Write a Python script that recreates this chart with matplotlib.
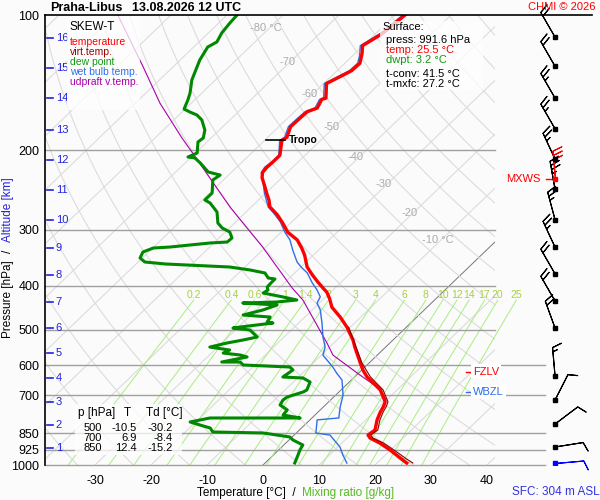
import numpy as np
import matplotlib
matplotlib.use('Agg')
import matplotlib.pyplot as plt
from matplotlib.patches import Rectangle
from matplotlib.lines import Line2D

plt.rcParams['font.family'] = ['Liberation Sans', 'DejaVu Sans']

# --- sounding data (pressure hPa, temperature degC) ---
t_p = [100, 110, 117, 121.5, 128, 133, 136, 142, 153, 154, 161, 164, 169, 177, 187, 190, 205, 212, 218, 224,
       230, 241, 249, 258, 267, 278, 290, 304, 316, 330, 342, 363, 378, 392, 404, 413, 426, 446, 469, 494,
       528, 547, 593, 615, 637, 654, 681, 724, 743, 762, 794, 836, 858, 871, 894, 926, 965, 990]
t_T = [-58.2, -58.8, -60.1, -58.8, -57.3, -57.4, -58.1, -59.5, -56.9, -57.4, -56.6, -57.7, -57.8, -57.9, -56.6, -56.9, -54.5, -54.5, -54.6, -54.4,
       -53.5, -51.3, -49.8, -48.1, -46.7, -43.9, -41.4, -38.8, -35.7, -33.3, -31.5, -28.9, -26.5, -24.2, -22.2, -20.7, -19.1, -17.0, -13.7, -10.6,
       -7.1, -5.5, -1.6, 0.2, 2.2, 4.1, 7.0, 10.1, 10.7, 11.1, 12.0, 13.5, 13.2, 14.1, 16.8, 19.9, 23.2, 25.3]

td_p = [100, 104.2, 109.6, 114.8, 117.8, 125.9, 130.5, 139.5, 149.1, 154.5, 161.8, 164.3, 166.8, 171.1, 180.1, 187.6, 191.5, 202.6, 206.8, 207.8,
        213.2, 223.3, 226.8, 232.6, 248.6, 257.7, 261.7, 274, 289.9, 297.4, 303.6, 313, 319.5, 321.1, 327.8, 329.5, 336.3, 346.7, 353.9, 357.5,
        363.1, 368.7, 374.4, 384.1, 386.1, 392.2, 402.3, 408.5, 414.8, 423.3, 429.9, 434.3, 436.5, 441, 452.4, 464.2, 469, 481.1, 483.6, 493.6,
        496.1, 501.2, 519.5, 527.6, 535.7, 546.9, 555.3, 563.9, 569.6, 575.4, 590.4, 590.4, 599.5, 605.7, 615, 637.4, 640.8, 654, 681.3, 688.3,
        706.1, 717, 735.6, 754.6, 774.3, 786.2, 786.2, 802.4, 814.9, 827.5, 844.6, 848.9, 866.5, 879.9, 902.7, 926.1, 950.2, 989.8]
td_T = [-88.2, -88.0, -87.6, -86.8, -87.5, -86.5, -85.7, -84.2, -82.1, -81.2, -80.2, -78.6, -76.8, -75.0, -72.6, -71.4, -71.6, -69.7, -70.6, -69.2,
        -67.3, -64.2, -61.5, -61.9, -59.6, -59.6, -58.1, -55.2, -53.0, -51.3, -49.2, -47.7, -47.8, -50.7, -57.1, -59.9, -61.0, -60.4, -58.8, -54.8,
        -42.7, -38.5, -35.3, -33.8, -32.4, -32.4, -32.3, -31.6, -31.9, -27.6, -24.6, -27.8, -33.7, -27.2, -28.8, -31.4, -26.2, -25.8, -24.6, -29.7,
        -30.8, -27.4, -24.8, -26.8, -29.1, -31.4, -27.3, -27.9, -24.5, -22.9, -26.5, -23.2, -22.1, -13.4, -12.3, -12.8, -9.0, -7.0, -6.1, -6.4,
        -8.3, -8.5, -8.1, -5.9, -5.7, -2.1, -18.2, -21.0, -18.7, -16.3, -15.1, -5.9, -0.4, 0.7, 3.4, 3.8, 4.4, 5.3]

tw_p = [100, 110, 117, 123, 128, 133, 136, 142, 153, 154, 161, 164, 169, 177, 187, 190, 205, 212, 218, 224,
        233, 249, 267, 275, 288, 304, 316, 333, 354, 365, 374, 394, 408, 423, 437, 452, 484, 519, 547, 570,
        606, 625, 647, 699, 743, 786, 794, 849, 858, 912, 950, 990]
tw_T = [-58.6, -59.2, -60.5, -58.8, -57.7, -57.8, -58.5, -59.9, -57.3, -57.8, -57.0, -58.1, -58.2, -58.3, -57.0, -57.3, -54.7, -54.7, -55.0, -54.6,
        -52.9, -50.2, -47.0, -45.0, -42.1, -39.3, -37.0, -34.6, -31.6, -29.6, -27.8, -25.0, -22.9, -21.0, -20.4, -18.6, -15.8, -13.1, -10.8, -9.7,
        -5.7, -3.9, -1.7, 1.3, 3.0, 4.8, 1.3, 3.5, 6.4, 10.4, 12.4, 14.6]

tv_p = [494, 527, 593, 637, 681, 724, 743, 762, 794, 836, 858, 871, 894, 926, 965, 990]
tv_T = [-10.3, -7.1, -1.3, 2.8, 7.5, 10.6, 11.2, 11.6, 12.5, 14.0, 13.7, 14.6, 17.5, 20.6, 24.1, 26.4]

parcel_p = [100, 130, 157, 187, 203, 268, 328, 404, 430, 536, 570, 631, 671, 688, 717]
parcel_T = [-109.5, -95.5, -85.6, -75.4, -70.4, -53.6, -40.5, -27.7, -23.5, -11.2, -7.9, 0.6, 5.9, 7.7, 9.9]

wind_p = [112, 130, 153, 179, 209, 244, 285, 328, 376, 432, 496, 634, 717, 811, 912]
wind_dir = [330, 330, 330, 330, 335, 350, 345, 335, 330, 330, 340, 355, 27, 53, 81]
wind_spd = [20, 20, 25, 25, 25, 35, 25, 25, 20, 20, 20, 15, 10, 10, 10]
mxws_p, mxws_dir, mxws_spd = 231, 355, 30
sfc_p, sfc_dir, sfc_spd = 990, 85, 10

alt_km = list(range(1, 17))
alt_p = [917, 815, 724, 641, 564, 496, 434, 378, 330, 285, 245, 210, 180, 153, 131, 112.5]

p_levels = [100, 200, 300, 400, 500, 600, 700, 850, 925, 1000]
t_ticks = [-30, -20, -10, 0, 10, 20, 30, 40]
iso_lab_T = [-80, -70, -60, -50, -40, -30, -20, -10]
iso_lab_p = [107, 127, 150, 177, 207, 238, 275, 316]
mix_w = [0.2, 0.4, 0.6, 1, 1.4, 2, 3, 4, 6, 8, 10, 12, 14, 17, 20, 25]

table_rows = [('500', '-10.5', '-30.2'), ('700', '6.9', '-8.4'), ('850', '12.4', '-15.2')]
surface_lines = [('press: 991.6 hPa', 'black'), ('temp: 25.5 \u00b0C', 'red'), ('dwpt: 3.2 \u00b0C', '#119911'),
                 ('t-conv: 41.5 \u00b0C', 'black'), ('t-mxfc: 27.2 \u00b0C', 'black')]
tropo_p = 190
fzlv_p, wbzl_p = 620, 688

K = 83.57  # skew in degC per decade of pressure


def skx(T, p):
    return np.asarray(T, float) + K * np.log10(1000.0 / np.asarray(p, float))


def fpx(x, y):
    return x / 600, 1 - y / 500


fig = plt.figure(figsize=(6, 5), dpi=100, facecolor='#fbfbfb')
ax = fig.add_axes([45 / 600, 0.07, 450 / 600, 0.9])
ax.set_facecolor('#fbfbfb')
ax.set_yscale('log')
ax.set_ylim(1000, 100)
ax.set_xlim(-38.93, 41.43)

pp = np.logspace(2, 3, 120)
# isotherms
for T in range(-130, 50, 10):
    c, lw = ('#777777', 0.7) if T == 0 else ('#dcdcdc', 0.8)
    ax.plot(skx(T, pp), pp, color=c, lw=lw, zorder=1)
# dry adiabats
for th in range(220, 470, 10):
    ax.plot(skx(th * (pp / 1000) ** 0.2857 - 273.15, pp), pp, color='#dcdcdc', lw=0.8, zorder=1)
# mixing ratio lines
pm = np.linspace(1000, 430, 40)
lab_p = 419
for w in mix_w:
    e = w * pm / (622 + w)
    l = np.log(e / 6.112)
    ax.plot(skx(243.5 * l / (17.67 - l), pm), pm, color='#a6ee80', lw=0.7, zorder=1, clip_on=False)
    e = w * lab_p / (622 + w)
    l = np.log(e / 6.112)
    ax.text(float(skx(243.5 * l / (17.67 - l), lab_p)) - 0.6, lab_p, f'{w:g}', color='#a8d040',
            fontsize=7.5, ha='center', va='center', zorder=2, clip_on=False)

# pressure lines
yt = ax.get_yaxis_transform()
for p in p_levels[1:]:
    xe = 1.111 if p >= 600 else 1.0
    ax.plot([0, xe], [p, p], color='#a0a0a0', lw=1.0, transform=yt, clip_on=False, zorder=2)

for T, p in zip(iso_lab_T, iso_lab_p):
    s = f'{T} \u00b0C' if T in (-80, -10) else f'{T}'
    ax.text(float(skx(T, p)) - 0.6, p, s, color='#aaaaaa', fontsize=8, ha='center', va='center', zorder=2)

# curves
ax.plot(skx(parcel_T, parcel_p), parcel_p, color='#aa00aa', lw=0.8, zorder=3)
ax.plot(skx(tw_T, tw_p), tw_p, color='#2f6fe8', lw=1.0, zorder=3)
ax.plot(skx(td_T, td_p), td_p, color='#008800', lw=2.2, zorder=4)
ax.plot(skx(t_T, t_p), t_p, color='#ff0000', lw=2.4, zorder=4)
ax.plot(skx(tv_T, tv_p), tv_p, color='#8b0000', lw=0.8, zorder=5)

# tropopause marker
ax.plot([0.5, 3.9], [tropo_p, tropo_p], color='black', lw=1.2, zorder=5)
ax.text(4.6, tropo_p, 'Tropo', fontsize=7.5, fontweight='bold', va='center', zorder=5)

# level markers
ax.plot([0.936, 0.947], [fzlv_p, fzlv_p], color='red', lw=1, transform=yt, clip_on=False, zorder=6)
ax.text(0.951, fzlv_p, 'FZLV', color='red', fontsize=8, va='center', transform=yt, zorder=6,
        bbox=dict(facecolor='white', edgecolor='none', pad=1.5))
ax.plot([0.936, 0.947], [wbzl_p, wbzl_p], color='#2f6fe8', lw=1, transform=yt, clip_on=False, zorder=6)
ax.text(0.951, wbzl_p, 'WBZL', color='#2f6fe8', fontsize=8, va='center', transform=yt, zorder=6,
        bbox=dict(facecolor='white', edgecolor='none', pad=1.5))
ax.text(1.102, mxws_p, 'MXWS', color='red', fontsize=8, va='center', ha='right', transform=yt, clip_on=False)
ax.plot([1.113, 1.129], [mxws_p, mxws_p], color='red', lw=1, transform=yt, clip_on=False)

# altitude ticks
for km, p in zip(alt_km, alt_p):
    ax.plot([0.005, 0.018], [p, p], color='#2222dd', lw=1.2, transform=yt, zorder=5)
    ax.text(0.024, p, str(km), color='#2222dd', fontsize=8, va='center', transform=yt, zorder=5)

ax.set_yticks(p_levels)
ax.set_yticklabels([str(p) for p in p_levels], fontsize=9)
ax.yaxis.set_minor_locator(matplotlib.ticker.NullLocator())
ax.set_xticks(t_ticks)
ax.set_xticklabels([str(t) for t in t_ticks], fontsize=9)
ax.tick_params(length=0, pad=4)
ax.tick_params(axis='x', pad=7)
for s in ('right', 'bottom', 'top'):
    ax.spines[s].set_visible(False)
ax.spines['left'].set_linewidth(1.2)

# wind barbs
ax2 = fig.add_axes([495 / 600, 0.07, 97 / 600, 0.9])
ax2.set_yscale('log')
ax2.set_ylim(1000, 100)
ax2.set_xlim(0, 1)
ax2.axis('off')
bx = 0.619
bsz = dict(spacing=0.15, height=0.32, width=0.25)
blen = 6.4


def draw_barbs(ps, dirs, spds, color):
    dr = np.radians(dirs)
    sp = np.asarray(spds, float)
    ax2.barbs([bx] * len(ps), ps, -sp * np.sin(dr), -sp * np.cos(dr), length=blen, lw=0.8,
              color=color, sizes=bsz, clip_on=False)
    ax2.plot([bx] * len(ps), ps, 's', color=color, ms=3)


draw_barbs(wind_p, wind_dir, wind_spd, 'black')
draw_barbs([mxws_p], [mxws_dir], [mxws_spd], 'red')
draw_barbs([sfc_p], [sfc_dir], [sfc_spd], 'blue')

# top border line
fig.add_artist(Line2D([45 / 600, 592 / 600], [1 - 15 / 500] * 2, color='black', lw=1.2))

# boxes drawn over the chart
for (x0, y0, x1, y1) in [(67, 16, 140, 110), (380, 21, 483, 90), (75, 404, 182, 455)]:
    fig.add_artist(Rectangle(fpx(x0, y1), (x1 - x0) / 600, (y1 - y0) / 500, transform=fig.transFigure,
                             facecolor='white', edgecolor='none', alpha=0.75, zorder=3))

fig.text(*fpx(70, 27), 'SKEW-T', fontsize=8.5, va='center', zorder=4)
for i, (lab, c) in enumerate([('temperature', '#ff0000'), ('virt.temp.', '#990000'), ('dew point', '#119911'),
                              ('wet bulb temp.', '#2f6fe8'), ('udpraft v.temp.', '#aa00aa')]):
    fig.text(*fpx(70, 42 + 10 * i), lab, color=c, fontsize=7.5, va='center', zorder=4)

fig.text(*fpx(382, 27), 'Surface:', fontsize=8, va='center', zorder=4)
for (lab, c), yy in zip(surface_lines, [40, 50, 60, 74, 84]):
    fig.text(*fpx(386, yy), lab, color=c, fontsize=8, va='center', zorder=4)

fig.text(*fpx(78, 413), 'p [hPa]', fontsize=8.5, va='center', zorder=4)
fig.text(*fpx(127, 413), 'T', fontsize=8.5, va='center', ha='center', zorder=4)
fig.text(*fpx(146, 413), 'Td [\u00b0C]', fontsize=8.5, va='center', zorder=4)
for (pv, tv, tdv), yy in zip(table_rows, [428, 438, 448]):
    fig.text(*fpx(102, yy), pv, fontsize=8, va='center', ha='right', zorder=4)
    fig.text(*fpx(137, yy), tv, fontsize=8, va='center', ha='right', zorder=4)
    fig.text(*fpx(173, yy), tdv, fontsize=8, va='center', ha='right', zorder=4)

# titles and labels
fig.text(*fpx(50, 8), 'Praha-Libus', fontsize=9, fontweight='bold', va='center')
fig.text(*fpx(132, 8), '13.08.2026 12 UTC', fontsize=9, fontweight='bold', va='center')
fig.text(*fpx(596, 7), 'CHMI \u00a9 2026', color='red', fontsize=8, va='center', ha='right')
fig.text(*fpx(197, 493), 'Temperature [\u00b0C]  /', fontsize=8.5, va='center')
fig.text(*fpx(302, 493), 'Mixing ratio [g/kg]', color='#55bb22', fontsize=8.5, va='center')
fig.text(*fpx(512, 492), 'SFC: 304 m ASL', color='#3333dd', fontsize=8.5, va='center')
fig.text(*fpx(8, 299), 'Pressure [hPa]', fontsize=8.5, rotation=90, va='center', ha='center')
fig.text(*fpx(8, 251), '/', fontsize=8.5, rotation=90, va='center', ha='center')
fig.text(*fpx(8, 210), 'Altitude [km]', color='#2222dd', fontsize=8.5, rotation=90, va='center', ha='center')

fig.savefig('out.png', dpi=100, facecolor=fig.get_facecolor())
